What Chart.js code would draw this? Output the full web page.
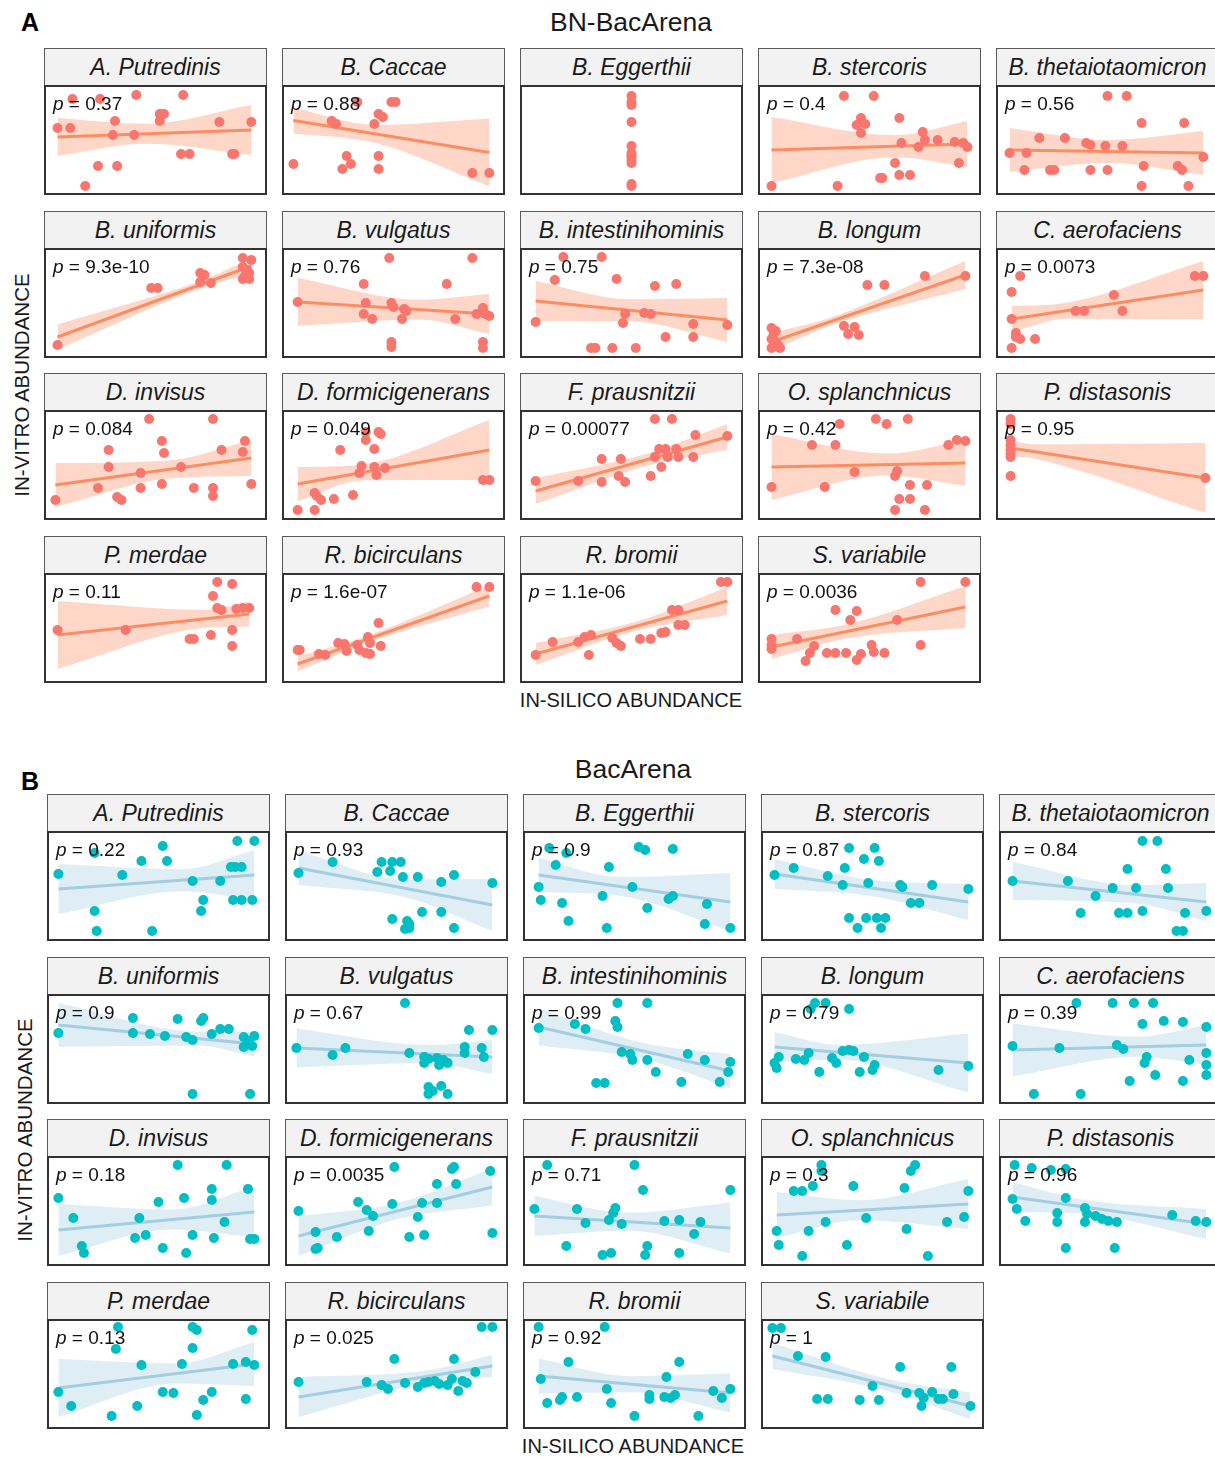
<!DOCTYPE html>
<html>
<head>
<meta charset="utf-8">
<script src="https://cdn.jsdelivr.net/npm/chart.js@4.4.0/dist/chart.umd.min.js"></script>
<style>
  html, body { margin: 0; padding: 0; background: #ffffff; overflow: hidden; }
  #page { position: relative; width: 1215px; height: 1457px; overflow: hidden;
          font-family: "Liberation Sans", Arial, Helvetica, sans-serif; color: #1a1a1a; }
  .txt { position: absolute; white-space: nowrap; line-height: 1; }
  .section-tag { font-weight: bold; font-size: 25px; color: #000; }
  .section-title { font-size: 26.5px; transform: translate(-50%, -50%); }
  .axis-x { font-size: 20px; transform: translate(-50%, -50%); }
  .axis-y { font-size: 20.5px; transform: translate(-50%, -50%) rotate(-90deg); }
  .strip { position: absolute; box-sizing: border-box; background: #f2f2f2;
           border: 1px solid #5a5a5a; border-bottom: none;
           display: flex; align-items: center; justify-content: center;
           font-style: italic; font-size: 23px; color: #1a1a1a; }
  .plot { position: absolute; }
  .plot canvas { position: absolute; left: 0; top: 0; }
  .frame { position: absolute; left: 0; top: 0; box-sizing: border-box;
           border: 2px solid #333; pointer-events: none; }
  .plabel { position: absolute; font-size: 19px; line-height: 19px; color: #111; white-space: nowrap; }
</style>
</head>
<body>
<div id="page"></div>
<script>
// Facet titles (same species in both model comparisons)
const species = [
  "A. Putredinis", "B. Caccae", "B. Eggerthii", "B. stercoris", "B. thetaiotaomicron",
  "B. uniformis", "B. vulgatus", "B. intestinihominis", "B. longum", "C. aerofaciens",
  "D. invisus", "D. formicigenerans", "F. prausnitzii", "O. splanchnicus", "P. distasonis",
  "P. merdae", "R. bicirculans", "R. bromii", "S. variabile"
];

// ---- BN-BacArena ----
const pBN = ["0.37", "0.88", "", "0.4", "0.56", "9.3e-10", "0.76", "0.75", "7.3e-08", "0.0073",
             "0.084", "0.049", "0.00077", "0.42", "0.95", "0.11", "1.6e-07", "1.1e-06", "0.0036"];

// in-silico abundance (scaled 0-100 within each species)
const inSilicoBN = [
  [11,24,41,63,4,10,31,30,40,52,54,52,80,95,62,66,86,87,23,32,17],
  [33,49,51,43,45,41,23,3,28,43,30,26,43,87,95,21],
  [50,50,50,50,50,50,50,50,50,50,50,50],
  [38,52,46,48,44,46,64,75,76,82,65,73,90,94,96,62,92,55,56,64,69,4,35],
  [50,59,66,86,18,30,40,42,49,57,4,12,11,23,25,42,50,67,83,85,66,88,95],
  [4,48,51,71,73,76,71,91,95,91,93,91,94,92,94],
  [48,87,36,75,5,37,49,50,55,56,36,40,54,79,92,93,95,89,49,49,92,92],
  [18,36,14,43,61,71,5,47,46,56,59,79,95,66,79,31,33,41,52],
  [4,6,5,4,6,7,4,8,38,43,40,45,49,57,76,95],
  [9,5,5,7,7,9,16,5,35,39,53,57,91,95],
  [47,77,28,53,54,92,81,91,28,43,62,3,23,32,34,43,53,68,77,77,95],
  [37,43,44,37,41,25,35,34,41,46,42,13,14,16,22,31,5,13,92,95],
  [61,69,5,25,36,45,36,44,47,59,63,66,71,67,61,64,72,79,80,95],
  [36,53,58,68,23,34,87,91,95,43,63,62,4,29,69,77,64,69,62,76],
  [4.5,4.5,4.5,4.5,4.5,4.5,4.5,4.5,96],
  [79,86,77,79,81,88,91,94,4,36,66,68,76,86,86],
  [89,95,5,6,15,18,24,27,28,38,39,43,44,34,37,39,33],
  [92,95,5,13,25,28,31,30,41,43,45,54,59,64,66,69,72,72,75],
  [74,95,34,44,41,63,4,16,4,4,24,22,20,30,34,39,44,46,51,52,57,74]
];

// in-vitro abundance (scaled 0-100 within each species)
const inVitroBN = [
  [91,91,95,95,62,62,69,55,55,76,76,69,68,68,36,36,36,36,24,24,4],
  [88,88,88,76,73,66,66,26,34,34,26,21,21,17,17,69],
  [94,88,85,68,44,37,35,33,30,27,6,4],
  [94,94,72,66,65,57,72,58,50,50,47,43,48,47,43,27,27,12,12,15,15,4,4],
  [94,94,67,67,52,52,47,45,44,44,37,37,20,20,20,20,20,24,24,20,4,4,33],
  [8,65,65,80,78,70,71,95,93,86,83,74,74,77,80],
  [95,95,69,69,51,50,50,46,44,42,39,34,34,34,45,39,37,39,11,6,11,5],
  [96,96,73,74,67,69,31,39,30,40,39,29,28,16,16,5,5,5,5],
  [25,22,19,14,11,8,5,5,27,26,19,18,68,68,77,77],
  [77,61,34,20,16,14,14,5,42,42,58,42,77,77],
  [96,96,65,74,62,74,65,63,48,42,48,15,27,18,15,27,31,27,27,19,31],
  [83,83,81,75,66,65,49,42,48,47,40,22,19,15,16,20,5,5,35,35],
  [96,96,34,34,56,56,33,39,33,39,66,66,66,58,58,48,58,58,80,79],
  [91,96,91,96,70,70,70,75,74,43,44,39,28,28,30,30,16,16,5,5],
  [96,91,75,70,65,61,58,39,37],
  [96,94,82,70,68,69,70,70,48,48,39,39,43,48,32],
  [91,91,28,28,24,23,35,34,27,41,35,55,32,28,25,24,33],
  [96,96,23,36,36,41,43,23,40,35,32,39,39,45,46,68,68,53,53],
  [96,96,68,67,58,58,39,39,33,29,32,25,17,25,25,25,18,24,33,26,25,33]
];

// linear fit: [fit at lowest x, fit at highest x, CI half-width at low end, at mean x, at high end]
const fitBN = [
  [53,60,19,10,25], [69.5,37.5,13,9,34], null, [40,46,33,11,23], [40,37,22,11.5,22],
  [16,87,12.5,4,8.5], [51,39,24,10,20], [52,33,20,11,22], [11,78,9,4,14], [34,63,13,8,29],
  [30,57,22,9,18], [31,65,17,8,30], [24,78,13,6,13], [48,52,33,11,23], [67,37,8,7,35],
  [43,64,34,9,12.5], [14,82,7.5,3.5,10.5], [24,77,11,4.5,14], [31,71,12,7,21]
];

// ---- BacArena ----
const pBac = ["0.22", "0.93", "0.9", "0.87", "0.84", "0.9", "0.67", "0.99", "0.79", "0.39",
              "0.18", "0.0035", "0.71", "0.3", "0.96", "0.13", "0.025", "0.92", "1"];

const inSilicoBac = [
  [20,52,87,95,42,54,84,86,89,3,33,66,79,71,70,20,85,89,94,21,47],
  [20,43,48,52,41,47,53,60,71,77,95,4,62,71,48,55,56,56,54,77],
  [10,18,13,38,5,6,16,19,35,37,49,52,55,68,56,66,68,84,83,95],
  [4,13,39,51,46,53,37,29,36,48,63,64,78,95,68,72,39,47,52,56,43,54],
  [65,72,58,76,4,30,43,51,62,77,36,54,58,65,85,95,81,84],
  [3,38,38,46,53,59,63,66,70,71,75,79,83,90,92,95,94,90,66,93],
  [54,84,95,3,26,20,56,63,65,69,72,74,70,63,82,82,90,91,65,67,71,74,65],
  [42,56,5,22,27,41,42,44,48,49,56,60,75,83,95,94,90,72,32,36],
  [23,28,21,39,6,4,5,14,18,20,31,36,39,41,33,46,51,50,44,25,81,95],
  [34,51,61,70,4,26,53,56,65,66,67,75,84,95,95,87,95,95,71,84,59,14,36],
  [59,82,3,10,50,62,75,75,92,41,81,39,44,66,76,93,95,52,63,14,15],
  [49,76,77,94,69,78,4,32,36,39,48,62,69,60,12,13,12,22,37,56,63,95],
  [9,50,54,95,3,23,41,40,27,38,44,64,71,81,78,18,35,39,56,55,71],
  [26,70,26,68,13,17,22,41,65,95,93,85,47,28,5,20,66,38,6,17,76],
  [5,13,22,29,4,6,10,25,29,38,39,43,38,46,49,53,25,79,90,95,29,52],
  [31,66,68,94,30,66,42,61,85,91,95,3,9,52,57,75,71,91,40,28,68],
  [90,95,49,77,4,36,43,46,54,60,63,65,68,70,76,74,81,83,79,87],
  [5,36,19,71,6,9,15,16,23,37,39,57,57,65,64,67,69,87,91,95,50,80],
  [3,7,15,28,63,87,50,66,72,78,74,81,83,88,24,29,44,53,73,96]
];

const inVitroBac = [
  [83,90,95,95,75,75,69,69,69,62,61,55,55,36,25,25,36,36,36,5,5],
  [74,74,74,74,64,65,59,59,54,61,53,63,24,24,17,15,12,8,7,8],
  [88,83,71,69,49,36,33,15,40,8,49,89,86,87,28,37,40,32,12,8],
  [61,68,88,88,77,75,68,60,51,53,51,49,51,47,33,33,18,18,18,18,8,8],
  [95,95,67,67,55,55,40,48,48,48,23,23,23,25,23,25,5,5],
  [66,81,66,65,63,80,62,59,78,81,65,70,70,62,58,63,53,52,5,5],
  [96,69,69,51,51,44,46,42,40,41,39,36,34,36,52,46,51,42,12,8,13,5,5],
  [96,96,71,75,70,78,72,47,45,39,39,27,45,39,37,27,17,17,16,16],
  [96,96,90,90,42,36,31,40,39,46,41,48,49,48,36,42,34,29,27,27,29,33],
  [96,96,96,96,53,51,54,50,75,36,42,78,77,72,46,39,34,24,24,18,18,5,5],
  [96,96,63,43,59,63,61,72,72,43,39,23,26,26,23,22,22,13,8,15,8],
  [94,92,94,90,77,77,50,59,51,45,57,58,58,44,29,13,12,24,30,24,26,28],
  [96,96,71,71,52,52,53,48,38,41,37,40,41,39,27,15,6,8,15,6,8],
  [96,96,90,90,70,70,75,75,73,70,44,39,43,39,30,30,32,16,16,5,5],
  [96,93,91,92,62,52,40,48,63,53,47,45,39,42,40,39,39,46,40,39,13,13],
  [97,97,94,94,75,76,59,60,60,62,59,32,18,32,31,32,24,25,18,8,9],
  [97,97,65,65,42,42,39,35,41,37,41,42,43,40,45,39,43,41,33,52],
  [97,97,62,62,45,21,24,27,27,35,21,25,29,47,27,26,29,33,26,35,8,8],
  [96,96,68,67,57,57,38,31,31,32,26,25,25,30,25,25,24,24,18,18]
];

const fitBac = [
  [47,61,25,11,25], [68,31,17,9,26], [61,34,17,9.5,29], [62,34,15,8,18], [55,34,19,9,19],
  [74,55,22,7,12.5], [51,42,19.5,9,17], [72,28,18.5,8,17], [52,36,15,7.5,29.5], [49,54,26.5,10,20],
  [31,49,26,10,25.5], [25,74,20,8,18.5], [45,33,20,9,25.5], [46,57,23,10,25], [64,37,15,7,15],
  [36,60,29,10,22], [27,58,20,6,11], [48,31,17.5,8,19.5], [68,18,13,6,13.5]
];

// ---- page layout ----
const PANEL_W = 223, STRIP_H = 37, PLOT_H = 110;

const sections = [
  { tag: "A", title: "BN-BacArena", tagY: 22, titleX: 631, titleY: 22,
    cols: [44, 282, 520, 758, 996], rows: [48, 211, 373, 536],
    xLabelY: 700, xLabelX: 631, yLabelX: 22, yLabelY: 385,
    p: pBN, xs: inSilicoBN, ys: inVitroBN, fits: fitBN,
    point: "#F8766D", line: "#FC8D62", band: "rgba(252,141,98,0.35)" },
  { tag: "B", title: "BacArena", tagY: 781, titleX: 633, titleY: 769,
    cols: [47, 285, 523, 761, 999], rows: [794, 957, 1119, 1282],
    xLabelY: 1446, xLabelX: 633, yLabelX: 25, yLabelY: 1130,
    p: pBac, xs: inSilicoBac, ys: inVitroBac, fits: fitBac,
    point: "#00BFC4", line: "#A3CDE2", band: "rgba(163,205,226,0.35)" }
];

const page = document.getElementById("page");

function addText(cls, text, left, top) {
  const d = document.createElement("div");
  d.className = "txt " + cls;
  d.textContent = text;
  d.style.left = left + "px";
  d.style.top = top + "px";
  page.appendChild(d);
  return d;
}

function mean(a) { return a.reduce((s, v) => s + v, 0) / a.length; }

function buildPanel(sec, i) {
  const left = sec.cols[i % 5];
  const top = sec.rows[Math.floor(i / 5)];

  const strip = document.createElement("div");
  strip.className = "strip";
  strip.style.left = left + "px";
  strip.style.top = top + "px";
  strip.style.width = PANEL_W + "px";
  strip.style.height = STRIP_H + "px";
  strip.textContent = species[i];
  page.appendChild(strip);

  const plot = document.createElement("div");
  plot.className = "plot";
  plot.style.left = left + "px";
  plot.style.top = (top + STRIP_H) + "px";
  plot.style.width = PANEL_W + "px";
  plot.style.height = PLOT_H + "px";
  page.appendChild(plot);

  const canvas = document.createElement("canvas");
  canvas.width = PANEL_W;
  canvas.height = PLOT_H;
  canvas.style.width = PANEL_W + "px";
  canvas.style.height = PLOT_H + "px";
  plot.appendChild(canvas);

  const frame = document.createElement("div");
  frame.className = "frame";
  frame.style.width = PANEL_W + "px";
  frame.style.height = PLOT_H + "px";
  plot.appendChild(frame);

  if (sec.p[i]) {
    const lab = document.createElement("div");
    lab.className = "plabel";
    lab.style.left = "9px";
    lab.style.top = "9px";
    const pi = document.createElement("i");
    pi.textContent = "p";
    lab.appendChild(pi);
    lab.appendChild(document.createTextNode(" = " + sec.p[i]));
    plot.appendChild(lab);
  }

  const xs = sec.xs[i], ys = sec.ys[i];
  const pts = xs.map((x, k) => ({ x: x, y: ys[k] }));
  const datasets = [{
    type: "scatter", data: pts, pointRadius: 5, pointHoverRadius: 5,
    backgroundColor: sec.point, borderWidth: 0, showLine: false, clip: false
  }];

  const fit = sec.fits[i];
  if (fit) {
    const x0 = Math.min(...xs), x1 = Math.max(...xs), xm = mean(xs);
    const [yL, yR, hL, hM, hR] = fit;
    const yMid = yL + (yR - yL) * (xm - x0) / (x1 - x0);
    datasets.push({
      type: "line", data: [{ x: x0, y: yL }, { x: x1, y: yR }],
      borderColor: sec.line, borderWidth: 3, pointRadius: 0, fill: false, tension: 0
    });
    const edge = s => [
      { x: x0, y: yL + s * hL }, { x: xm, y: yMid + s * hM }, { x: x1, y: yR + s * hR }
    ];
    datasets.push({
      type: "line", data: edge(-1), borderWidth: 0, borderColor: "rgba(0,0,0,0)",
      pointRadius: 0, fill: false, cubicInterpolationMode: "monotone"
    });
    datasets.push({
      type: "line", data: edge(1), borderWidth: 0, borderColor: "rgba(0,0,0,0)",
      pointRadius: 0, fill: "-1", backgroundColor: sec.band, cubicInterpolationMode: "monotone"
    });
  }

  new Chart(canvas, {
    type: "scatter",
    data: { datasets: datasets },
    options: {
      responsive: false, animation: false, devicePixelRatio: 1, events: [],
      layout: { padding: 0 },
      plugins: { legend: { display: false }, tooltip: { enabled: false } },
      scales: {
        x: { type: "linear", min: 0, max: 100, display: false },
        y: { type: "linear", min: 0, max: 100, display: false }
      }
    }
  });
}

sections.forEach(sec => {
  addText("section-tag", sec.tag, 21, sec.tagY - 12);
  addText("section-title", sec.title, sec.titleX, sec.titleY);
  addText("axis-x", "IN-SILICO ABUNDANCE", sec.xLabelX, sec.xLabelY);
  addText("axis-y", "IN-VITRO ABUNDANCE", sec.yLabelX, sec.yLabelY);
  for (let i = 0; i < species.length; i++) buildPanel(sec, i);
});
</script>
</body>
</html>
